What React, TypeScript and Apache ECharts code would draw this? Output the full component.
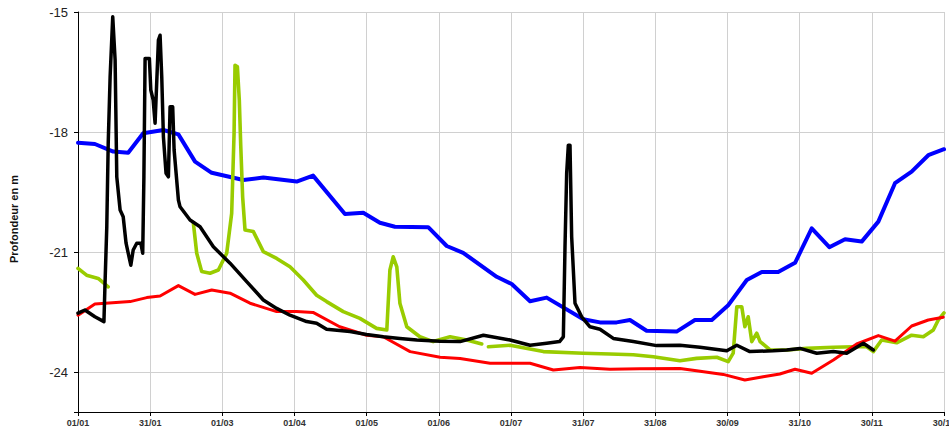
import React, { useEffect, useRef } from "react";
import * as echarts from "echarts";

// Tick labels (x axis: 12 equal steps over the year, y axis: depth)
const xLabels = ["01/01", "31/01", "01/03", "01/04", "01/05", "01/06", "01/07", "31/07", "31/08", "30/09", "31/10", "30/11", "30/12"];
const yTicks = [-15, -18, -21, -24];
const yMin = -25;
const yMax = -15;
const daysSpan = 364;

// Series: [day of year, depth in m]
const blueSeries: [number, number][] = [
  [0, -18.27], [7.1, -18.3], [14.8, -18.49], [21.1, -18.52], [27.4, -18.03], [35.9, -17.95], [42.2, -18.06],
  [49.2, -18.74], [56.2, -19.02], [69.5, -19.2], [77.9, -19.14], [91.9, -19.24], [98.8, -19.09],
  [112.2, -20.05], [119.9, -20.02], [126.9, -20.27], [133.2, -20.37], [147.2, -20.38], [155.0, -20.85],
  [161.9, -21.02], [176.0, -21.62], [182.3, -21.8], [190.0, -22.23], [197.0, -22.14], [212.4, -22.68],
  [219.4, -22.76], [226.4, -22.76], [232.0, -22.7], [239.0, -22.97], [251.6, -22.99], [259.3, -22.7],
  [266.4, -22.7], [273.3, -22.33], [281.1, -21.7], [287.4, -21.5], [294.3, -21.5], [301.4, -21.27],
  [308.4, -20.41], [315.8, -20.88], [322.4, -20.68], [329.4, -20.74], [336.4, -20.24], [343.4, -19.28],
  [350.4, -18.99], [357.4, -18.58], [364, -18.43],
];

const greenSeries: [number, number | string][] = [
  [0, -21.41], [3.6, -21.58], [8.5, -21.66], [12.7, -21.87], [13.5, "-"],
  [48.5, -20.28], [49.9, -21.03], [52.0, -21.49], [55.5, -21.53], [59.0, -21.45], [62.5, -21.03],
  [64.6, -20.03], [65.6, -18.03], [66.0, -16.33], [67.0, -16.37], [67.8, -17.2], [68.4, -18.33],
  [69.2, -19.62], [70.2, -20.45], [73.7, -20.49], [77.9, -20.99], [83.5, -21.16], [89.1, -21.37],
  [94.7, -21.7], [100.3, -22.08], [104.5, -22.24], [111.5, -22.49], [118.5, -22.66], [125.5, -22.91],
  [129.8, -22.95], [131.1, -21.45], [132.5, -21.12], [134.0, -21.37], [135.3, -22.28], [138.2, -22.87],
  [143.7, -23.12], [149.3, -23.24], [156.4, -23.12], [163.4, -23.2], [169.7, -23.3], [171.0, "-"],
  [172.5, -23.37], [181.6, -23.33], [195.6, -23.49], [212.4, -23.53], [223.6, -23.55], [233.4, -23.57],
  [241.8, -23.62], [253.0, -23.72], [260.0, -23.66], [268.5, -23.63], [273.3, -23.74], [275.4, -23.53],
  [276.9, -22.37], [279.0, -22.37], [280.3, -22.87], [281.7, -22.62], [283.2, -23.24], [285.3, -23.03],
  [286.7, -23.24], [290.9, -23.45], [297.9, -23.45], [306.3, -23.41], [317.5, -23.38], [325.9, -23.37],
  [331.5, -23.37], [334.3, -23.49], [337.8, -23.2], [344.1, -23.27], [350.4, -23.08], [355.3, -23.12],
  [359.5, -22.95], [361.6, -22.7], [364, -22.52],
];

const redSeries: [number, number][] = [
  [0, -22.58], [7.1, -22.3], [21.9, -22.24], [28.9, -22.14], [34.5, -22.1], [42.2, -21.84], [49.2, -22.06],
  [56.2, -21.95], [63.9, -22.03], [72.3, -22.28], [83.5, -22.49], [91.9, -22.49], [98.8, -22.51],
  [110.0, -22.87], [121.3, -23.08], [128.3, -23.12], [139.6, -23.49], [152.2, -23.63], [160.6, -23.66],
  [173.2, -23.78], [190.0, -23.78], [199.8, -23.95], [211.0, -23.89], [223.6, -23.93], [236.2, -23.92],
  [253.0, -23.91], [260.0, -23.97], [271.2, -24.06], [280.3, -24.2], [288.0, -24.12], [295.0, -24.05],
  [301.4, -23.93], [308.4, -24.03], [317.5, -23.7], [327.3, -23.3], [336.4, -23.09], [343.4, -23.23],
  [350.4, -22.85], [357.4, -22.7], [363.7, -22.63],
];

const blackSeries: [number, number][] = [
  [0, -22.53], [2.9, -22.45], [7.1, -22.62], [10.9, -22.74], [11.3, -21.9], [12.1, -20.37], [12.7, -18.28],
  [13.5, -16.62], [14.6, -15.12], [15.6, -16.2], [15.9, -17.45], [16.3, -19.12], [17.7, -19.95],
  [19.0, -20.12], [20.2, -20.78], [22.2, -21.33], [23.2, -20.95], [24.7, -20.78], [26.4, -20.78],
  [27.2, -21.03], [27.7, -19.12], [28.2, -16.16], [30.0, -16.16], [30.6, -16.95], [31.6, -17.2],
  [32.4, -17.78], [33.8, -15.7], [34.5, -15.58], [35.2, -16.62], [35.9, -18.12], [37.0, -19.03],
  [38.0, -19.12], [38.7, -17.37], [39.8, -17.37], [40.4, -18.45], [42.2, -19.7], [42.9, -19.87],
  [47.1, -20.2], [51.3, -20.37], [56.9, -20.87], [63.9, -21.28], [70.9, -21.74], [77.9, -22.2],
  [83.5, -22.41], [89.1, -22.58], [96.1, -22.74], [100.3, -22.78], [104.5, -22.93], [114.3, -22.99],
  [121.3, -23.06], [128.3, -23.12], [135.3, -23.16], [142.4, -23.2], [152.2, -23.23], [160.6, -23.24],
  [170.4, -23.08], [181.6, -23.2], [190.0, -23.33], [197.0, -23.28], [202.4, -23.24], [204.0, -23.12],
  [204.7, -20.87], [205.4, -19.03], [206.1, -18.33], [206.8, -18.33], [207.5, -20.62], [208.9, -22.28],
  [211.7, -22.62], [215.2, -22.87], [219.4, -22.93], [225.0, -23.16], [233.4, -23.24], [243.2, -23.34],
  [253.0, -23.33], [261.4, -23.38], [272.7, -23.47], [276.9, -23.33], [282.4, -23.49], [292.2, -23.47],
  [297.9, -23.45], [303.5, -23.41], [310.5, -23.53], [317.5, -23.49], [323.1, -23.53], [330.1, -23.28],
  [334.3, -23.45],
];

const FONT = "'Liberation Sans', Arial, sans-serif";

function toPoints(s: [number, number | string][]) {
  // x in label steps, y as positive depth on an inverted axis
  return s.map(([d, v]) => [(d * (xLabels.length - 1)) / daysSpan, typeof v === "number" ? -v : "-"]);
}

export default function App() {
  const ref = useRef<HTMLDivElement>(null);
  useEffect(() => {
    if (!ref.current) return;
    const chart = echarts.init(ref.current, undefined, { renderer: "svg" });
    const line = (name: string, data: any, color: string, width: number) => ({
      name,
      type: "line",
      data: toPoints(data),
      showSymbol: false,
      symbol: "none",
      lineStyle: { color, width, join: "round", cap: "round" },
      connectNulls: false,
      silent: true,
    });
    chart.setOption({
      animation: false,
      backgroundColor: "#ffffff",
      grid: { left: 78, top: 12, right: 5, bottom: 18, outerBoundsMode: "none", containLabel: false },
      graphic: [
        {
          type: "text",
          x: 14,
          y: 219,
          rotation: Math.PI / 2,
          style: {
            text: "Profondeur en m",
            fontFamily: "'Liberation Sans Narrow', 'Liberation Sans', Arial, sans-serif",
            fontWeight: "bold",
            fontSize: 11,
            fill: "#111",
            align: "center",
            verticalAlign: "middle",
          },
        },
      ],
      xAxis: {
        type: "value",
        min: 0,
        max: xLabels.length - 1,
        interval: 1,
        axisLine: { show: true, lineStyle: { color: "#000", width: 1 } },
        axisTick: { show: true, length: 4, lineStyle: { color: "#000" } },
        splitLine: { show: true, lineStyle: { color: "#d0d0d0", width: 1 } },
        axisLabel: {
          fontFamily: FONT,
          fontSize: 9,
          fontWeight: "bold",
          color: "#333",
          margin: 6,
          formatter: (v: number) => xLabels[Math.round(v)] ?? "",
        },
      },
      yAxis: {
        type: "value",
        inverse: true,
        min: -yMax,
        max: -yMin,
        interval: 3,
        axisLine: { show: true, lineStyle: { color: "#000", width: 1 } },
        axisTick: { show: true, length: 4, lineStyle: { color: "#000" } },
        splitLine: { show: true, lineStyle: { color: "#d0d0d0", width: 1 } },
        axisLabel: {
          fontFamily: FONT,
          fontSize: 13,
          color: "#222",
          margin: 10,
          formatter: (v: number) => (yTicks.includes(-v) ? String(-v) : ""),
        },
      },
      series: [
        line("bleu", blueSeries, "#0000ff", 4),
        line("vert", greenSeries, "#99cc00", 3.6),
        line("rouge", redSeries, "#ff0000", 3),
        line("noir", blackSeries, "#000000", 3.5),
      ],
    });
    return () => chart.dispose();
  }, []);
  return <div ref={ref} style={{ position: "absolute", left: 0, top: 0, width: 949, height: 430 }} />;
}
